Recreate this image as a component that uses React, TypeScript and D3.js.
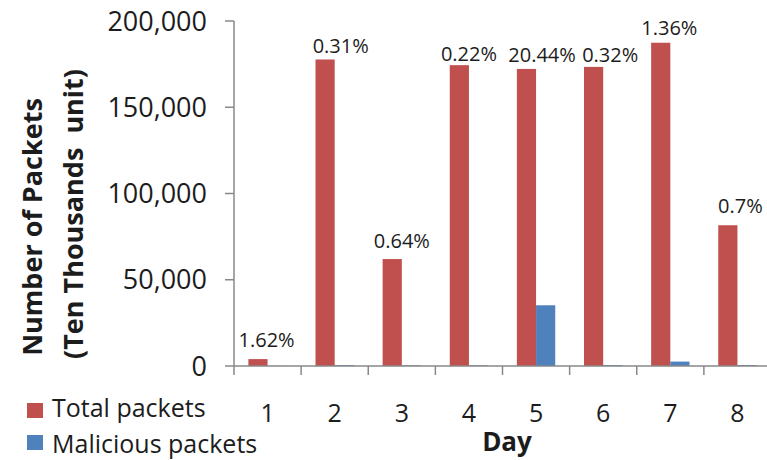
import React from "react";
import * as d3 from "d3";

// Daily packet counts (ten-thousands) and the malicious share of each day
const days = ["1", "2", "3", "4", "5", "6", "7", "8"];
const totalPackets = [4000, 177700, 62000, 174400, 172200, 173400, 187400, 81600];
const maliciousPackets = [65, 550, 400, 380, 35200, 555, 2550, 570];
const maliciousShare = ["1.62%", "0.31%", "0.64%", "0.22%", "20.44%", "0.32%", "1.36%", "0.7%"];
const yTicks = [0, 50000, 100000, 150000, 200000];

// Hand placement of the share labels (dx, dy from their default spot above the bar)
const labelNudge: [number, number][] = [
  [-1, -3], [6, 2], [0, -2], [0, 5], [6, 1.5], [7, 3.5], [-1, 1], [3, -3],
];

const W = 767;
const H = 460;
const FONT = "'Open Sans', sans-serif";
const RED = "#C0504D";
const BLUE = "#4F81BD";
const AXIS = "#888888";
const TEXT = "#1c1c1c";

export default function App() {
  const x = d3.scaleBand<string>().domain(days).range([234, 771]).padding(0);
  const sub = d3
    .scaleBand<string>()
    .domain(["total", "mal"])
    .range([0, x.bandwidth()])
    .paddingInner(0)
    .paddingOuter(0.75);
  const y = d3.scaleLinear().domain([0, 200000]).range([366, 21]);
  const fmt = d3.format(",");
  const x0 = x.range()[0];
  const yBase = y(0);

  return (
    <svg
      width={W}
      height={H}
      style={{ position: "absolute", left: 0, top: 0, background: "#fff" }}
      fontFamily={FONT}
    >
      {/* bars */}
      {days.map((d, i) => (
        <g key={d}>
          <rect
            x={(x(d) as number) + (sub("total") as number)}
            y={y(totalPackets[i])}
            width={sub.bandwidth()}
            height={yBase - y(totalPackets[i])}
            fill={RED}
          />
          <rect
            x={(x(d) as number) + (sub("mal") as number)}
            y={y(maliciousPackets[i])}
            width={sub.bandwidth()}
            height={yBase - y(maliciousPackets[i])}
            fill={BLUE}
          />
        </g>
      ))}

      {/* y axis */}
      <line x1={x0} x2={x0} y1={y(200000)} y2={yBase} stroke={AXIS} strokeWidth={1.5} />
      {yTicks.map((t) => (
        <g key={t}>
          <line x1={x0 - 9} x2={x0} y1={y(t)} y2={y(t)} stroke={AXIS} strokeWidth={1.5} />
          <text x={207} y={y(t)} dy="0.36em" textAnchor="end" fontSize={27} fill={TEXT}>
            {fmt(t)}
          </text>
        </g>
      ))}

      {/* x axis */}
      <line x1={x0} x2={W} y1={yBase} y2={yBase} stroke={AXIS} strokeWidth={1.5} />
      {days.map((d) => (
        <g key={d}>
          <line
            x1={x(d) as number}
            x2={x(d) as number}
            y1={yBase}
            y2={yBase + 9}
            stroke={AXIS}
            strokeWidth={1.5}
          />
          <text
            x={(x(d) as number) + x.bandwidth() / 2}
            y={413}
            dy="0.36em"
            textAnchor="middle"
            fontSize={25}
            fill={TEXT}
          >
            {d}
          </text>
        </g>
      ))}

      {/* malicious share labels */}
      {days.map((d, i) => (
        <text
          key={d}
          x={(x(d) as number) + x.bandwidth() / 2 + labelNudge[i][0]}
          y={y(totalPackets[i]) - 16 + labelNudge[i][1]}
          dy="0.36em"
          textAnchor="middle"
          fontSize={20}
          fill={TEXT}
        >
          {maliciousShare[i]}
        </text>
      ))}

      {/* axis titles */}
      <text x={507} y={451} textAnchor="middle" fontSize={26} fontWeight="bold" fill={TEXT}>
        Day
      </text>
      <g transform="rotate(-90)">
        <text x={-227} y={42} textAnchor="middle" fontSize={27} fontWeight="bold" fill={TEXT}>
          Number of Packets
        </text>
        <text x={-214} y={83} textAnchor="middle" fontSize={27} fontWeight="bold" fill={TEXT} style={{ whiteSpace: "pre" }}>
          {"(Ten Thousands  unit)"}
        </text>
      </g>

      {/* legend */}
      <rect x={27} y={403} width={16} height={15} fill={RED} />
      <text x={52} y={417} fontSize={25} fill={TEXT}>
        Total packets
      </text>
      <rect x={27} y={435} width={16} height={15} fill={BLUE} />
      <text x={52} y={453} fontSize={25} fill={TEXT}>
        Malicious packets
      </text>
    </svg>
  );
}
